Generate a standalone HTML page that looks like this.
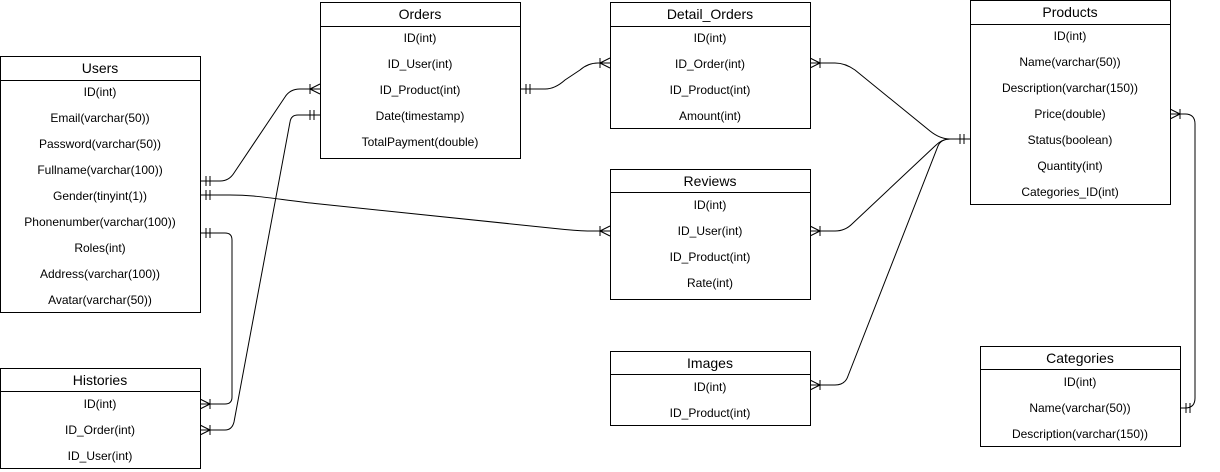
<!DOCTYPE html>
<html><head><meta charset="utf-8"><style>
html,body{margin:0;padding:0;background:#fff;}
svg{display:block;font-family:"Liberation Sans",Arial,sans-serif;}
.t{font-size:14px;text-anchor:middle;fill:#000;}
.r{font-size:12px;text-anchor:middle;fill:#000;}
.b{fill:#fff;stroke:#000;stroke-width:1;}
.c{fill:none;stroke:#000;stroke-width:1;}
</style></head><body>
<svg width="1220" height="472" viewBox="0 0 1220 472">
<g class="c">
<path d="M200,181 L220,181 Q229,181 234,173 L285,97 Q290,89 300,89 L320,89"/>
<path d="M200,195 L230,195 C260,195 280,200 320,204 L560,229 Q580,231 590,231 L610,231"/>
<path d="M200,233 L225,233 Q232,233 232,240 L232,397 Q232,404 225,404 L200,404"/>
<path d="M320,115 L298,115 Q291,115 290,122 L234,422 Q232,430 225,430 L200,430"/>
<path d="M520,89 L545,89 Q555,89 565,80 L580,70 Q588,63 598,63 L610,63"/>
<path d="M810,63 L835,63 Q845,63 855,70 L930,131 Q940,139 950,139 L970,139"/>
<path d="M810,231 L835,231 Q845,231 852,224 L935,146 Q942,139 950,139"/>
<path d="M810,385 L835,385 Q845,385 848,376 L938,146 Q941,139 950,139"/>
<path d="M1170,114 L1185,114 Q1195,114 1195,124 L1195,398 Q1195,408 1185,408 L1180,408"/>
<path d="M206,176V186M210,176V186"/>
<path d="M206,190V200M210,190V200"/>
<path d="M206,228V238M210,228V238"/>
<path d="M314,110V120M310,110V120"/>
<path d="M526,84V94M530,84V94"/>
<path d="M964,134V144M960,134V144"/>
<path d="M1186,403V413M1190,403V413"/>
<path d="M310,89L320,84M310,89L320,94M310,84V94"/>
<path d="M600,231L610,226M600,231L610,236M600,226V236"/>
<path d="M210,404L200,399M210,404L200,409M210,399V409"/>
<path d="M210,430L200,425M210,430L200,435M210,425V435"/>
<path d="M600,63L610,58M600,63L610,68M600,58V68"/>
<path d="M820,63L810,58M820,63L810,68M820,58V68"/>
<path d="M820,231L810,226M820,231L810,236M820,226V236"/>
<path d="M820,385L810,380M820,385L810,390M820,380V390"/>
<path d="M1180,114L1170,109M1180,114L1170,119M1180,109V119"/>
</g>

<rect class="b" x="0.5" y="56.5" width="200" height="256"/><line class="c" x1="0" y1="80.5" x2="200" y2="80.5"/>
<text class="t" x="100" y="73">Users</text>
<text class="r" x="100" y="96">ID(int)</text>
<text class="r" x="100" y="122">Email(varchar(50))</text>
<text class="r" x="100" y="148">Password(varchar(50))</text>
<text class="r" x="100" y="174">Fullname(varchar(100))</text>
<text class="r" x="100" y="200">Gender(tinyint(1))</text>
<text class="r" x="100" y="226">Phonenumber(varchar(100))</text>
<text class="r" x="100" y="252">Roles(int)</text>
<text class="r" x="100" y="278">Address(varchar(100))</text>
<text class="r" x="100" y="304">Avatar(varchar(50))</text>

<rect class="b" x="320.5" y="2.5" width="200" height="156"/><line class="c" x1="320" y1="26.5" x2="520" y2="26.5"/>
<text class="t" x="420" y="19">Orders</text>
<text class="r" x="420" y="42">ID(int)</text>
<text class="r" x="420" y="68">ID_User(int)</text>
<text class="r" x="420" y="94">ID_Product(int)</text>
<text class="r" x="420" y="120">Date(timestamp)</text>
<text class="r" x="420" y="146">TotalPayment(double)</text>

<rect class="b" x="610.5" y="2.5" width="200" height="126"/><line class="c" x1="610" y1="26.5" x2="810" y2="26.5"/>
<text class="t" x="710" y="19">Detail_Orders</text>
<text class="r" x="710" y="42">ID(int)</text>
<text class="r" x="710" y="68">ID_Order(int)</text>
<text class="r" x="710" y="94">ID_Product(int)</text>
<text class="r" x="710" y="120">Amount(int)</text>

<rect class="b" x="970.5" y="0.5" width="200" height="204"/><line class="c" x1="970" y1="24.5" x2="1170" y2="24.5"/>
<text class="t" x="1070" y="17">Products</text>
<text class="r" x="1070" y="40">ID(int)</text>
<text class="r" x="1070" y="66">Name(varchar(50))</text>
<text class="r" x="1070" y="92">Description(varchar(150))</text>
<text class="r" x="1070" y="118">Price(double)</text>
<text class="r" x="1070" y="144">Status(boolean)</text>
<text class="r" x="1070" y="170">Quantity(int)</text>
<text class="r" x="1070" y="196">Categories_ID(int)</text>

<rect class="b" x="610.5" y="169.5" width="200" height="130"/><line class="c" x1="610" y1="192.5" x2="810" y2="192.5"/>
<text class="t" x="710" y="186">Reviews</text>
<text class="r" x="710" y="209">ID(int)</text>
<text class="r" x="710" y="235">ID_User(int)</text>
<text class="r" x="710" y="261">ID_Product(int)</text>
<text class="r" x="710" y="287">Rate(int)</text>

<rect class="b" x="610.5" y="351.5" width="200" height="74"/><line class="c" x1="610" y1="374.5" x2="810" y2="374.5"/>
<text class="t" x="710" y="368">Images</text>
<text class="r" x="710" y="391">ID(int)</text>
<text class="r" x="710" y="417">ID_Product(int)</text>

<rect class="b" x="0.5" y="368.5" width="200" height="100"/><line class="c" x1="0" y1="391.5" x2="200" y2="391.5"/>
<text class="t" x="100" y="385">Histories</text>
<text class="r" x="100" y="408">ID(int)</text>
<text class="r" x="100" y="434">ID_Order(int)</text>
<text class="r" x="100" y="460">ID_User(int)</text>

<rect class="b" x="980.5" y="346.5" width="200" height="100"/><line class="c" x1="980" y1="369.5" x2="1180" y2="369.5"/>
<text class="t" x="1080" y="363">Categories</text>
<text class="r" x="1080" y="386">ID(int)</text>
<text class="r" x="1080" y="412">Name(varchar(50))</text>
<text class="r" x="1080" y="438">Description(varchar(150))</text>
</svg>
</body></html>
